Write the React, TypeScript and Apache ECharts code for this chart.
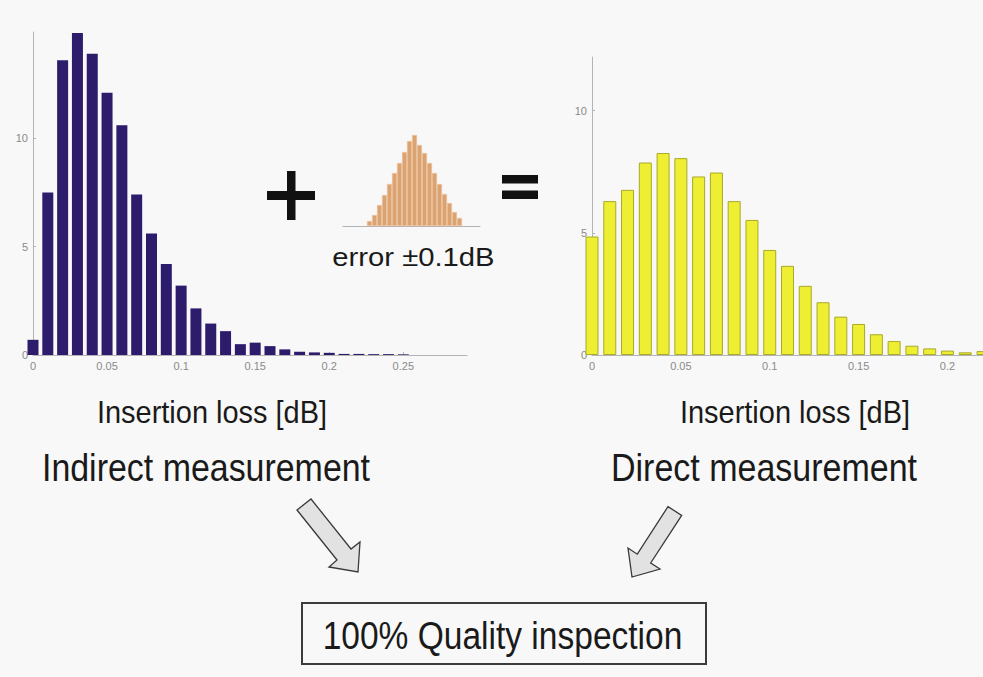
import React, { useEffect, useRef } from "react";
import * as echarts from "echarts";

// ---- data ----
const lossBins = [0, 0.01, 0.02, 0.03, 0.04, 0.05, 0.06, 0.07, 0.08, 0.09, 0.1, 0.11, 0.12, 0.13, 0.14, 0.15, 0.16, 0.17, 0.18, 0.19, 0.2, 0.21, 0.22, 0.23, 0.24, 0.25];
const indirectCounts = [0.7, 7.5, 13.6, 14.85, 13.9, 12.1, 10.6, 7.4, 5.6, 4.2, 3.2, 2.15, 1.45, 1.1, 0.5, 0.57, 0.41, 0.26, 0.15, 0.12, 0.1, 0.05, 0.05, 0.04, 0.04, 0.03];

const directBins = [0, 0.01, 0.02, 0.03, 0.04, 0.05, 0.06, 0.07, 0.08, 0.09, 0.1, 0.11, 0.12, 0.13, 0.14, 0.15, 0.16, 0.17, 0.18, 0.19, 0.2, 0.21, 0.22];
const directCounts = [4.85, 6.3, 6.76, 7.88, 8.27, 8.06, 7.31, 7.47, 6.3, 5.53, 4.3, 3.65, 2.83, 2.16, 1.57, 1.27, 0.85, 0.57, 0.38, 0.27, 0.18, 0.11, 0.16];

const errorBins = [-0.09, -0.08, -0.07, -0.06, -0.05, -0.04, -0.03, -0.02, -0.01, 0, 0.01, 0.02, 0.03, 0.04, 0.05, 0.06, 0.07, 0.08, 0.09];
const errorCounts = [5, 11, 21, 31, 42, 53, 63, 74, 85, 91, 81, 73, 63, 53, 42, 32, 23, 14, 8];

const countTickStep = 5;
const lossTickStep = 0.05;

const axisTitle = "Insertion loss [dB]";
const leftCaption = "Indirect measurement";
const rightCaption = "Direct measurement";
const errorCaption = "error \u00b10.1dB";
const resultCaption = "100% Quality inspection";

const BG = "#f8f8f8";
const FONT = "Liberation Sans";
const INK = "#1a1a1a";
const AXIS_GRAY = "#b4b4b4";
const LABEL_GRAY = "#8a8a8a";

function valueXAxis(gridIndex: number, min: number, max: number, showLabels: boolean) {
  return {
    gridIndex,
    type: "value",
    min,
    max,
    interval: showLabels ? lossTickStep : undefined,
    axisLine: { show: true, onZero: false, lineStyle: { color: AXIS_GRAY, width: 1 } },
    axisTick: { show: showLabels, inside: true, length: 3, lineStyle: { color: AXIS_GRAY } },
    axisLabel: {
      show: showLabels,
      color: LABEL_GRAY,
      fontSize: 11,
      fontFamily: FONT,
      margin: 5,
      showMaxLabel: false,
      showMinLabel: true,
    },
    splitLine: { show: false },
  };
}

function valueYAxis(gridIndex: number, max: number, showLabels: boolean) {
  return {
    gridIndex,
    type: "value",
    min: 0,
    max,
    interval: showLabels ? countTickStep : undefined,
    axisLine: { show: showLabels, lineStyle: { color: AXIS_GRAY, width: 1 } },
    axisTick: { show: showLabels, inside: true, length: 3, lineStyle: { color: AXIS_GRAY } },
    axisLabel: {
      show: showLabels,
      color: LABEL_GRAY,
      fontSize: 11,
      fontFamily: FONT,
      margin: 5,
      showMaxLabel: false,
      showMinLabel: true,
    },
    splitLine: { show: false },
  };
}

function caption(text: string, cx: number, cy: number, fontSize: number, scaleX: number) {
  return {
    type: "text",
    x: cx,
    y: cy,
    scaleX,
    scaleY: 1,
    z: 10,
    style: {
      text,
      fill: INK,
      fontSize,
      fontFamily: FONT,
      textAlign: "center",
      textVerticalAlign: "middle",
    },
  };
}

const arrowStyle = { fill: "#e2e2e2", stroke: "#3a3a3a", lineWidth: 1.3 };

export default function App() {
  const ref = useRef<HTMLDivElement | null>(null);

  useEffect(() => {
    if (!ref.current) return;
    const chart = echarts.init(ref.current, undefined, { renderer: "svg" });

    const option = {
      animation: false,
      backgroundColor: BG,
      grid: [
        { left: 33, top: 32, width: 434, height: 323, outerBoundsMode: "none", containLabel: false },
        { left: 592, top: 57, width: 391, height: 298, outerBoundsMode: "none", containLabel: false },
        { left: 343, top: 135, width: 137, height: 91, outerBoundsMode: "none", containLabel: false },
      ],
      xAxis: [
        valueXAxis(0, 0, 0.293, true),
        valueXAxis(1, 0, 0.22, true),
        valueXAxis(2, -0.143, 0.131, false),
      ],
      yAxis: [valueYAxis(0, 14.9, true), valueYAxis(1, 12.2, true), valueYAxis(2, 91, false)],
      series: [
        {
          type: "bar",
          xAxisIndex: 0,
          yAxisIndex: 0,
          barWidth: 11,
          clip: true,
          itemStyle: { color: "#2d1b6c" },
          data: lossBins.map((x, i) => [x, indirectCounts[i]]),
        },
        {
          type: "bar",
          xAxisIndex: 1,
          yAxisIndex: 1,
          barWidth: 13,
          clip: true,
          itemStyle: { color: "#eeee32", borderColor: "#a9a92c", borderWidth: 1 },
          data: directBins.map((x, i) => [x, directCounts[i]]),
        },
        {
          type: "bar",
          xAxisIndex: 2,
          yAxisIndex: 2,
          barWidth: 5,
          clip: true,
          itemStyle: { color: "#dca372", borderColor: "#efc49c", borderWidth: 0.6 },
          data: errorBins.map((x, i) => [x, errorCounts[i]]),
        },
      ],
      graphic: [
        // plus sign
        { type: "rect", z: 10, shape: { x: 287, y: 171, width: 8.5, height: 49 }, style: { fill: "#111" } },
        { type: "rect", z: 10, shape: { x: 267, y: 191, width: 48, height: 9 }, style: { fill: "#111" } },
        // equals sign
        { type: "rect", z: 10, shape: { x: 502, y: 175, width: 36, height: 8.5 }, style: { fill: "#111" } },
        { type: "rect", z: 10, shape: { x: 502, y: 190.5, width: 36, height: 8.5 }, style: { fill: "#111" } },
        // arrows
        {
          type: "polygon",
          z: 10,
          shape: {
            points: [
              [297, 510],
              [311, 499],
              [351, 549],
              [360, 542],
              [358, 572],
              [329, 567],
              [337, 560],
            ],
          },
          style: arrowStyle,
        },
        {
          type: "polygon",
          z: 10,
          shape: {
            points: [
              [668, 506.6],
              [681.7, 515.4],
              [650.7, 563],
              [660, 569],
              [632, 577],
              [628, 548],
              [637.3, 554.2],
            ],
          },
          style: arrowStyle,
        },
        // result box
        {
          type: "rect",
          z: 10,
          shape: { x: 302, y: 603, width: 404, height: 61 },
          style: { fill: BG, stroke: "#3c3c3c", lineWidth: 2 },
        },
        caption(errorCaption, 413.5, 257, 25, 1.17),
        caption(axisTitle, 212, 411.5, 32, 0.905),
        caption(axisTitle, 795, 411.5, 32, 0.905),
        caption(leftCaption, 206, 467.5, 39, 0.87),
        caption(rightCaption, 764, 467.5, 39, 0.872),
        caption(resultCaption, 502.5, 636, 39, 0.86),
      ],
    };

    chart.setOption(option as any);
    return () => {
      chart.dispose();
    };
  }, []);

  return (
    <div
      ref={ref}
      style={{ position: "absolute", left: 0, top: 0, width: 983, height: 677, background: BG }}
    />
  );
}
